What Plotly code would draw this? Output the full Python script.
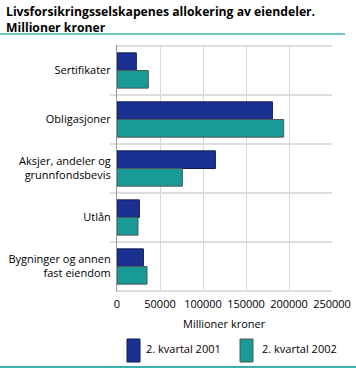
import plotly.graph_objects as go

categories = ["Sertifikater", "Obligasjoner", "Aksjer, andeler og<br>grunnfondsbevis", "Utlån", "Bygninger og annen<br>fast eiendom"]
series_2001 = [22500, 180700, 114400, 26000, 30700]
series_2002 = [36500, 193800, 76000, 24400, 34900]
series_names = ["2. kvartal 2001", "2. kvartal 2002"]
x_ticks = [0, 50000, 100000, 150000, 200000, 250000]

FONT = "Open Sans"
BLUE = "#1b3191"
TEAL = "#1a9a96"
LINE_COLORS = ["#0d1a55", "#4a5a5a"]
COLORS = [BLUE, TEAL]

# plot-area geometry in pixels
L, R, T, B = 117, 332, 45, 292
W, H = R - L, B - T

def px(x):
    return (x - L) / W

def py(y):
    return (B - y) / H

fig = go.Figure()
for name, vals, col, lc in zip(series_names, [series_2001, series_2002], COLORS, LINE_COLORS):
    fig.add_trace(go.Bar(y=categories, x=vals, orientation="h", name=name, showlegend=False,
                         marker=dict(color=col, line=dict(color=lc, width=1))))

shapes = []
for i in range(len(categories) + 1):
    shapes.append(dict(type="line", xref="paper", x0=px(110) if 0 < i < len(categories) else 0, x1=1,
                       yref="y", y0=i - 0.5, y1=i - 0.5, line=dict(color="#dedede", width=2), layer="below"))
shapes.append(dict(type="line", xref="paper", yref="paper", x0=px(0), x1=px(345),
                   y0=py(34), y1=py(34), line=dict(color="#3ab0b0", width=1.5)))
shapes.append(dict(type="line", xref="paper", yref="paper", x0=px(0), x1=px(356),
                   y0=py(367), y1=py(367), line=dict(color="#3ab0b0", width=2)))

annotations = [
    dict(text="<b>Livsforsikringsselskapenes allokering av eiendeler.<br>Millioner kroner</b>",
         xref="paper", yref="paper", x=px(4), y=py(1), xanchor="left", yanchor="top",
         align="left", showarrow=False, font=dict(family=FONT, size=12.2, color="#000")),
    dict(text="Millioner kroner", xref="paper", yref="paper", x=0.5, y=py(323),
         xanchor="center", yanchor="middle", showarrow=False,
         font=dict(family=FONT, size=11, color="#000")),
]
leg_sw = [127, 240]
leg_tx = [144, 260]
for name, col, lc, x0, xt in zip(series_names, COLORS, LINE_COLORS, leg_sw, leg_tx):
    shapes.append(dict(type="rect", xref="paper", yref="paper", x0=px(x0), x1=px(x0 + 13),
                       y0=py(362), y1=py(339), fillcolor=col, line=dict(color=lc, width=1)))
    annotations.append(dict(text=name, xref="paper", yref="paper", x=px(xt), y=py(348),
                            xanchor="left", yanchor="middle", showarrow=False,
                            font=dict(family=FONT, size=11, color="#000")))

fig.update_layout(
    width=356, height=370,
    margin=dict(l=L, r=356 - R, t=T, b=370 - B),
    paper_bgcolor="white", plot_bgcolor="white",
    font=dict(family=FONT, size=11, color="#000"),
    barmode="group", bargap=0.28, bargroupgap=0,
    showlegend=False,
    xaxis=dict(range=[0, 250000], tickvals=x_ticks, ticktext=[str(v) for v in x_ticks],
               showgrid=True, gridcolor="#d8d8d8", gridwidth=1, zeroline=False, automargin=False,
               showline=False, ticks="", ticklabelstandoff=4, tickfont=dict(size=11)),
    yaxis=dict(autorange="reversed", showgrid=False, showline=True, linecolor="#999", linewidth=1,
               ticks="", ticklabelstandoff=3, tickfont=dict(size=11), automargin=False),
    shapes=shapes,
    annotations=annotations,
)

fig.write_html("out.html", config={"displayModeBar": False},
               post_script="document.body.style.margin='0';document.body.style.overflow='hidden';")
